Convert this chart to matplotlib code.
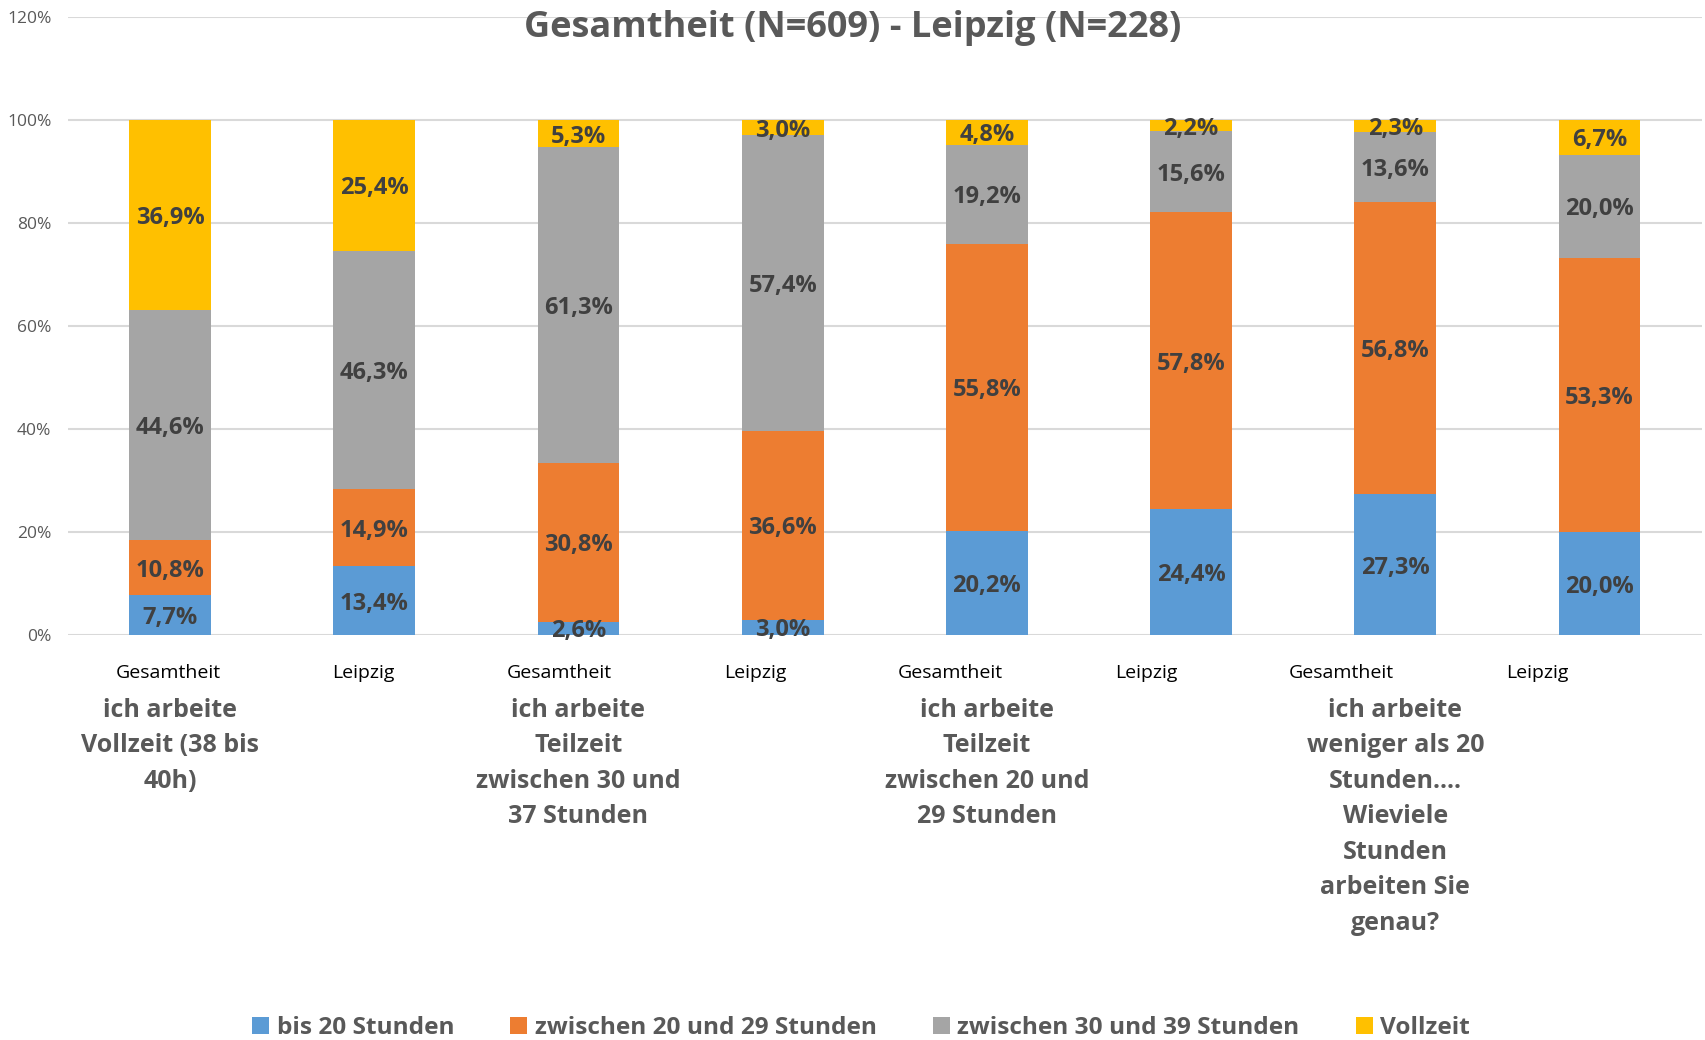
import matplotlib
matplotlib.use("Agg")
import matplotlib.pyplot as plt
from matplotlib import font_manager
from matplotlib.patches import Patch

names = {f.name for f in font_manager.fontManager.ttflist}
FONT = "Liberation Sans Narrow" if "Liberation Sans Narrow" in names else "Open Sans"
plt.rcParams['font.family'] = [FONT, 'DejaVu Sans']

sub_labels = ["Gesamtheit", "Leipzig", "Gesamtheit", "Leipzig",
              "Gesamtheit", "Leipzig", "Gesamtheit", "Leipzig"]
group_labels = ["ich arbeite\nVollzeit (38 bis\n40h)",
                "ich arbeite\nTeilzeit\nzwischen 30 und\n37 Stunden",
                "ich arbeite\nTeilzeit\nzwischen 20 und\n29 Stunden",
                "ich arbeite\nweniger als 20\nStunden....\nWieviele\nStunden\narbeiten Sie\ngenau?"]
series_names = ["bis 20 Stunden", "zwischen 20 und 29 Stunden",
                "zwischen 30 und 39 Stunden", "Vollzeit"]
bis20 = [7.7, 13.4, 2.6, 3.0, 20.2, 24.4, 27.3, 20.0]
z20_29 = [10.8, 14.9, 30.8, 36.6, 55.8, 57.8, 56.8, 53.3]
z30_39 = [44.6, 46.3, 61.3, 57.4, 19.2, 15.6, 13.6, 20.0]
vollzeit = [36.9, 25.4, 5.3, 3.0, 4.8, 2.2, 2.3, 6.7]
colors = ["#5B9BD5", "#ED7D31", "#A5A5A5", "#FFC000"]
title = "Gesamtheit (N=609) - Leipzig (N=228)"

fig = plt.figure(figsize=(17.05, 10.4), dpi=100)
ax = fig.add_axes([68/1705, 1-635/1040, 1-68/1705-0.002, (635-17)/1040])

x = list(range(len(sub_labels)))
bottom = [0.0]*len(x)
for vals, col in zip([bis20, z20_29, z30_39, vollzeit], colors):
    ax.bar(x, vals, width=0.4, bottom=bottom, color=col, zorder=3)
    for xi, v, b in zip(x, vals, bottom):
        ax.annotate(f"{v:.1f}%".replace(".", ","), xy=(xi, b + v/2), xytext=(0, -2.2),
                    textcoords="offset points", ha="center", va="center",
                    fontsize=17, fontweight="bold", color="#404040", zorder=4)
    bottom = [b + v for b, v in zip(bottom, vals)]

ax.set_xlim(-0.5, len(x)-0.5)
ax.set_ylim(0, 120)
ax.set_yticks(range(0, 121, 20))
ax.set_yticklabels([f"{t}%" for t in range(0, 121, 20)])
ax.tick_params(axis="y", length=0, pad=12, labelsize=12.5, labelcolor="#595959")
ax.tick_params(axis="x", length=0)
ax.set_xticks([])
ax.grid(axis="y", color="#D9D9D9", linewidth=1.5, zorder=0)
for s in ax.spines.values():
    s.set_visible(False)

trans = ax.get_xaxis_transform()
for xi, lab in zip(x, sub_labels):
    ax.text(xi*0.958 - 0.01, -0.062, lab, transform=trans, ha="center", va="center",
            fontsize=14, color="#000000")
for gi, lab in enumerate(group_labels):
    ax.text(2*gi, -0.102, lab, transform=trans, ha="center", va="top",
            fontsize=18, fontweight="bold", color="#595959", linespacing=1.55)

fig.text(0.5, 0.973, title, ha="center", va="center", fontsize=26,
         fontweight="bold", color="#595959")

handles = [Patch(facecolor=c) for c in colors]
leg = fig.legend(handles, series_names, loc="center", bbox_to_anchor=(0.505, 1-1028/1040),
                 ncol=4, frameon=False, fontsize=17.6, handlelength=0.7, handleheight=0.7,
                 columnspacing=2.3, handletextpad=0.3)
for t in leg.get_texts():
    t.set_color("#595959")
    t.set_fontweight("bold")

fig.savefig("out.png", dpi=100)
